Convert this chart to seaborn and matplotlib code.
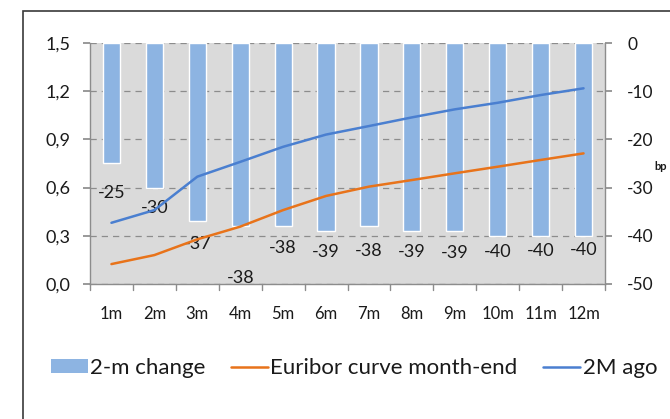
import matplotlib
matplotlib.use("Agg")
import matplotlib.pyplot as plt
import seaborn as sns
import pandas as pd
from matplotlib.patches import Rectangle, Patch
from matplotlib.lines import Line2D

# ---- data ----
maturities = ["1m", "2m", "3m", "4m", "5m", "6m", "7m", "8m", "9m", "10m", "11m", "12m"]
change_bp = [-25, -30, -37, -38, -38, -39, -38, -39, -39, -40, -40, -40]
euribor_month_end = [0.124, 0.18, 0.278, 0.357, 0.46, 0.548, 0.606, 0.647, 0.689, 0.73, 0.772, 0.813]
euribor_2m_ago = [0.381, 0.46, 0.668, 0.76, 0.854, 0.93, 0.983, 1.037, 1.087, 1.128, 1.176, 1.218]
left_ticks = [0.0, 0.3, 0.6, 0.9, 1.2, 1.5]
left_tick_labels = ["0,0", "0,3", "0,6", "0,9", "1,2", "1,5"]
right_ticks = [-50, -40, -30, -20, -10, 0]
series_names = ["2-m change", "Euribor curve month-end", "2M ago"]

# label vertical offsets (pixels below bar end) - styling only
label_dy_px = [30, 20, 23, 52, 22, 21, 25, 21, 22, 16, 15, 14]

BAR_C = "#8db4e2"
ORANGE = "#e8731a"
BLUE = "#4a7fd0"
BG = "#dadada"
SPINE = "#8c8c8c"
TXT = "#1a1a1a"

sns.set_theme(style="white")
plt.rcParams["font.family"] = ["Lato", "DejaVu Sans"]

fig = plt.figure(figsize=(6.7, 4.19), dpi=100)
ax = fig.add_axes([90/670, 1-284/419, (605-90)/670, (284-43)/419])

df = pd.DataFrame({"mat": maturities, "chg": change_bp,
                   "me": euribor_month_end, "ago": euribor_2m_ago})

# bars on the right (bp) axis
sns.barplot(data=df, x="mat", y="chg", color=BAR_C, saturation=1, width=0.4,
            ax=ax, order=maturities)
ax.set_facecolor(BG)
ax.set_ylim(-50, 0)
ax.set_xlim(-0.5, len(maturities) - 0.5)
ax.set_xlabel("")
ax.set_ylabel("")
ax.set_axisbelow(True)
ax.grid(axis="y", color="#8c8c8c", linestyle=(0, (5, 4)), linewidth=0.9)
ax.grid(axis="x", visible=False)

# lines on left axis
ax2 = ax.twinx()
sns.lineplot(data=df, x="mat", y="me", color=ORANGE, lw=1.8, ax=ax2, sort=False)
sns.lineplot(data=df, x="mat", y="ago", color=BLUE, lw=1.8, ax=ax2, sort=False)
ax2.set_ylim(0, 1.5)
ax2.set_xlim(-0.5, len(maturities) - 0.5)
ax2.set_ylabel("")
ax2.set_xlabel("")

# right axis = bars axis (after twinx, which resets ticks)
ax.yaxis.tick_right()
ax.yaxis.set_label_position("right")
ax.set_yticks(right_ticks)
ax.set_yticklabels([str(t) for t in right_ticks], ha="left")
ax.tick_params(axis="y", left=False, right=True, labelleft=False, labelright=True,
               length=5, color=SPINE, labelsize=12.5, labelcolor=TXT, pad=11)

ax2.yaxis.tick_left()
ax2.set_yticks(left_ticks)
ax2.set_yticklabels(left_tick_labels)
ax2.tick_params(axis="y", left=True, right=False, labelleft=True, labelright=False,
                length=5, color=SPINE, labelsize=13, labelcolor=TXT, pad=9)

for s in ["top", "left"]:
    ax.spines[s].set_visible(False)
for s in ["bottom", "right"]:
    ax.spines[s].set_color(SPINE)
    ax.spines[s].set_linewidth(1.0)
for s in ["top", "right", "bottom"]:
    ax2.spines[s].set_visible(False)
ax2.spines["left"].set_color(SPINE)
ax2.spines["left"].set_linewidth(1.0)

# x ticks labels; tick marks at category boundaries
ax.set_xticks(list(range(len(maturities))))
ax.set_xticklabels(maturities, fontsize=12, color=TXT)
ax.tick_params(axis="x", length=0, pad=16)
ax2.tick_params(axis="x", bottom=False, labelbottom=False)
for b in [i - 0.5 for i in range(len(maturities) + 1)]:
    ax.plot([b, b], [-50, -51.3], color=SPINE, lw=1.0, clip_on=False)

# data labels
for i, v in enumerate(change_bp):
    ax.annotate(str(v), xy=(i, v), xytext=(0, -label_dy_px[i] * 0.72),
                textcoords="offset points", ha="center", va="center",
                fontsize=13, color=TXT)

# bp label
fig.text(667/670, 1-167/419, "bp", fontsize=8, fontweight="bold", color=TXT,
         ha="right", va="center")

# legend
handles = [Patch(facecolor=BAR_C, edgecolor="none"),
           Line2D([], [], color=ORANGE, lw=1.8),
           Line2D([], [], color=BLUE, lw=1.8)]
fig.legend(handles, series_names, loc="center", bbox_to_anchor=(354/670, 1-368/419),
           ncol=3, frameon=False, fontsize=16, handlelength=1.65, handleheight=0.6,
           handletextpad=0.12, columnspacing=1.15, labelcolor=TXT,
           borderpad=0, borderaxespad=0)

# outer border
fig.patches.append(Rectangle((23/670, -0.1), 1.2, 1.1 - 11/419,
                             transform=fig.transFigure, fill=False,
                             edgecolor="#3a3a3a", lw=1.2))

fig.savefig("out.png", dpi=100)
